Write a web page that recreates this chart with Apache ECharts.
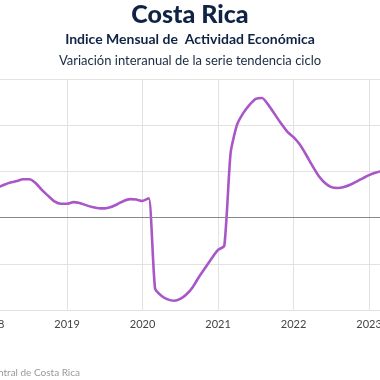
<!DOCTYPE html>
<html>
<head>
<meta charset="utf-8">
<script src="https://cdn.jsdelivr.net/npm/echarts@6/dist/echarts.min.js"></script>
<style>
html,body{margin:0;padding:0;width:380px;height:380px;overflow:hidden;background:#fff;}
#chart{position:absolute;left:-110px;top:0;width:600px;height:380px;}
</style>
</head>
<body>
<div id="chart"></div>
<script>
const titleText = "Costa Rica";
const subtitle1 = "Indice Mensual de  Actividad Económica";
const subtitle2 = "Variación interanual de la serie tendencia ciclo";
const sourceText = "Fuente: Banco Central de Costa Rica";

const months = [];
for (let y = 2018; y <= 2023; y++) {
  for (let m = 1; m <= 12; m++) {
    if (y === 2023 && m > 6) break;
    months.push(y + "-" + String(m).padStart(2, "0"));
  }
}
const values = [
  3.0, 3.25, 3.55, 3.8, 3.95, 4.15, 4.15, 3.75, 3.0, 2.35, 1.75, 1.5,
  1.5, 1.68, 1.58, 1.35, 1.15, 1.02, 1.0, 1.15, 1.45, 1.8, 2.0, 1.95,
  1.8, 2.1, -7.7, -8.45, -8.85, -9.0, -8.8, -8.3, -7.5, -6.4, -5.4, -4.4,
  -3.5, -3.05, 7.0, 10.0, 11.3, 12.2, 12.85, 12.95, 12.2, 11.2, 10.2, 9.3,
  8.7, 7.9, 6.8, 5.6, 4.5, 3.75, 3.3, 3.2, 3.3, 3.55, 3.9, 4.25,
  4.6, 4.85, 5.05, 5.2, 5.3, 5.35
];
const yTicks = { min: -10, max: 15, interval: 5 };

const chart = echarts.init(document.getElementById('chart'));
const FONT = 'Lato';
chart.setOption({
  animation: false,
  graphic: [
    { type: 'text', x: 300, y: 15, style: { text: titleText, font: '900 25px ' + FONT, fill: '#0f2444', textAlign: 'center', textVerticalAlign: 'middle' } },
    { type: 'text', x: 300, y: 39, style: { text: subtitle1, font: 'bold 14px ' + FONT, fill: '#0f2444', textAlign: 'center', textVerticalAlign: 'middle' } },
    { type: 'text', x: 300, y: 61, style: { text: subtitle2, font: '13px ' + FONT, fill: '#1a2a44', textAlign: 'center', textVerticalAlign: 'middle' } },
    { type: 'text', x: 190, y: 373, style: { text: sourceText, font: '10px ' + FONT, fill: '#999', textAlign: 'right', textVerticalAlign: 'middle' } }
  ],
  grid: { left: 101.5, right: 89.5, top: 79, bottom: 70, containLabel: false },
  xAxis: {
    type: 'category', data: months, boundaryGap: false,
    axisLine: { lineStyle: { color: '#dddddd' } },
    axisTick: { show: false },
    axisLabel: {
      interval: (i) => i % 12 === 0,
      formatter: (v) => v.slice(0, 4),
      color: '#444', fontFamily: FONT, fontSize: 11, margin: 9
    },
    splitLine: { show: true, interval: (i) => i % 12 === 0, lineStyle: { color: '#e2e2e2' } }
  },
  yAxis: {
    type: 'value', min: yTicks.min, max: yTicks.max, interval: yTicks.interval,
    axisLine: { show: false }, axisTick: { show: false },
    axisLabel: { color: '#444', fontFamily: FONT, fontSize: 11 },
    splitLine: { lineStyle: { color: '#e2e2e2' } }
  },
  series: [{
    type: 'line', data: values, showSymbol: false, smooth: 0.2,
    lineStyle: { color: '#a957c8', width: 2.6 },
    markLine: {
      silent: true, symbol: 'none', label: { show: false },
      lineStyle: { color: '#888', width: 1, type: 'solid' },
      data: [{ yAxis: 0 }]
    },
    z: 3
  }]
});
</script>
</body>
</html>
